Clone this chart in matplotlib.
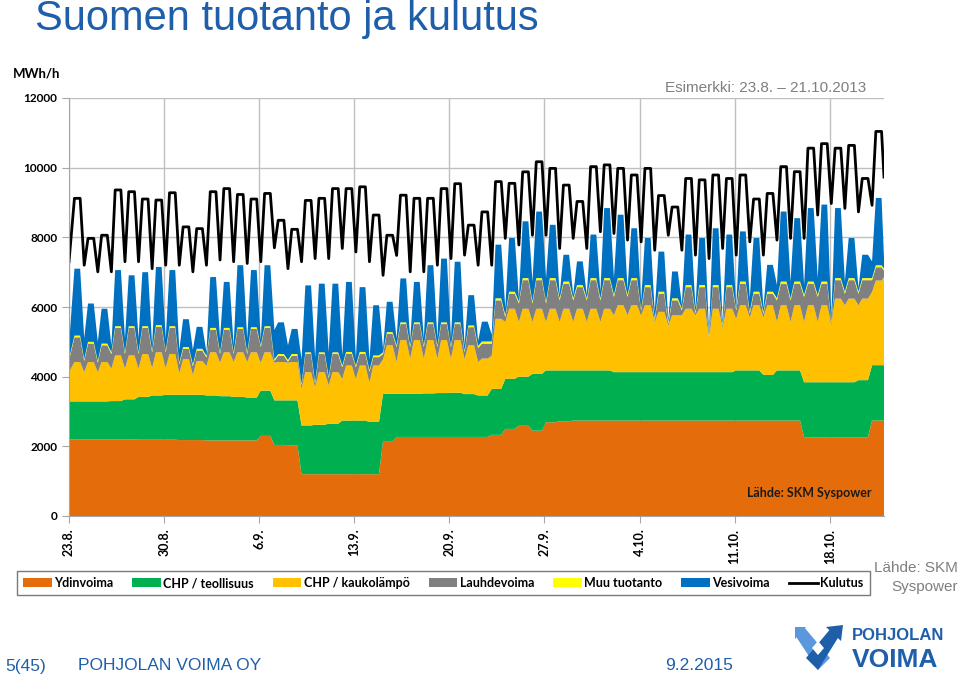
import numpy as np
import matplotlib
matplotlib.use("Agg")
import matplotlib.pyplot as plt
from matplotlib.patches import Patch, Polygon
from matplotlib.lines import Line2D

# ---------------- data (MWh/h), one value per day: night trough / daytime level -------------
date_labels = ["23.8.", "30.8.", "6.9.", "13.9.", "20.9.", "27.9.", "4.10.", "11.10.", "18.10."]
series_names = ["Ydinvoima", "CHP / teollisuus", "CHP / kaukolämpö", "Lauhdevoima",
                "Muu tuotanto", "Vesivoima", "Kulutus"]

# nuclear (same day/night), 61 values: day 0 .. 60 (end of period)
ydinvoima = [2200, 2200, 2200, 2200, 2200, 2190, 2190, 2190, 2180, 2180,
             2170, 2170, 2170, 2170, 2300, 2040, 2030, 1200, 1200, 1200,
             1200, 1200, 1200, 2150, 2270, 2270, 2270, 2270, 2270, 2270,
             2270, 2330, 2500, 2590, 2450, 2690, 2720, 2740, 2740, 2740,
             2740, 2740, 2740, 2740, 2740, 2740, 2740, 2740, 2740, 2740,
             2740, 2740, 2740, 2740, 2260, 2260, 2260, 2260, 2260, 2740, 2740]
chp_teollisuus = [1090, 1090, 1090, 1100, 1150, 1230, 1270, 1290, 1300, 1300,
                  1290, 1270, 1250, 1230, 1300, 1280, 1290, 1400, 1420, 1450,
                  1540, 1540, 1500, 1360, 1240, 1240, 1250, 1260, 1270, 1230,
                  1190, 1320, 1440, 1410, 1630, 1490, 1460, 1440, 1440, 1440,
                  1390, 1390, 1390, 1390, 1390, 1390, 1390, 1390, 1390, 1440,
                  1440, 1310, 1440, 1440, 1580, 1580, 1580, 1580, 1640, 1590, 1590]
chp_kauko_day = [1130, 1130, 1130, 1310, 1260, 1230, 1240, 1170, 1020, 970,
                 1240, 1260, 1280, 1300, 1100, 1100, 1100, 1530, 1510, 1480,
                 1580, 1580, 1620, 1390, 1540, 1540, 1530, 1520, 1510, 1400,
                 1060, 2010, 2010, 1950, 1870, 1770, 1770, 1770, 1770, 1770,
                 1920, 1920, 1920, 1730, 1630, 1820, 1820, 1820, 1820, 1870,
                 1870, 2000, 1870, 1870, 2210, 2210, 2400, 2400, 2340, 2430]
chp_kauko_night = [840, 840, 840, 930, 880, 810, 790, 770, 620, 570,
                   840, 960, 1000, 1020, 800, 1080, 1080, 1050, 1080, 1100,
                   1200, 1200, 1140, 990, 910, 1010, 1000, 990, 980, 1000,
                   960, 950, 1630, 1570, 1490, 1390, 1390, 1390, 1390, 1390,
                   1630, 1630, 1630, 1440, 1340, 1630, 1630, 970, 1270, 1490,
                   1520, 1650, 1390, 1390, 1730, 1730, 1660, 2210, 2150, 2100, 2530]
lauhde_day = [710, 530, 480, 790, 790, 750, 730, 750, 300, 300,
              650, 650, 670, 670, 700, 180, 180, 520, 520, 520,
              340, 340, 240, 330, 460, 460, 460, 460, 460, 520,
              430, 530, 430, 820, 820, 820, 720, 620, 820, 820,
              720, 720, 520, 520, 430, 620, 620, 620, 620, 620,
              330, 330, 620, 620, 620, 620, 530, 530, 530, 380]
lauhde_night = [335, 320, 270, 420, 420, 420, 450, 450, 250, 250,
                250, 250, 230, 230, 450, 50, 30, 100, 100, 200,
                330, 330, 300, 150, 430, 330, 330, 330, 330, 200,
                400, 350, 140, 530, 530, 530, 620, 620, 620, 620,
                530, 530, 140, 50, 50, 140, 50, 40, 50, 230,
                110, 100, 620, 620, 720, 720, 50, 330, 330, 340, 190]
muu_tuotanto = [50, 50, 50, 50, 50, 50, 50, 50, 50, 50,
                50, 50, 50, 50, 50, 50, 50, 50, 50, 50,
                50, 50, 50, 50, 50, 50, 50, 50, 50, 50,
                60, 60, 60, 60, 60, 60, 60, 60, 60, 60,
                60, 60, 60, 60, 60, 60, 60, 60, 60, 60,
                60, 60, 60, 60, 60, 60, 60, 60, 60, 60, 60]
vesi_day = [1920, 1100, 1000, 1610, 1460, 1550, 1670, 1610, 800, 630,
            1460, 1320, 1780, 1640, 1750, 910, 720, 1920, 1970, 1970,
            2010, 1860, 1440, 870, 1260, 1160, 1640, 1830, 1740, 870,
            570, 1540, 1540, 1630, 1910, 1530, 770, 680, 1250, 2010,
            1820, 1430, 1350, 1150, 770, 1450, 1350, 1630, 1450, 1440,
            1540, 770, 2010, 1820, 2110, 2210, 2010, 1150, 670, 1930]
vesi_night = [385, 600, 550, 200, 390, 390, 150, 340, 370, 420,
              100, 390, 200, 390, 150, 840, 420, 700, 700, 700,
              290, 200, 300, 100, 190, 150, 200, 200, 200, 150,
              150, 200, 190, 90, 570, 670, 100, 100, 100, 190,
              480, 150, 200, 190, 50, 100, 100, 90, 50, 50,
              380, 100, 380, 480, 280, 480, 100, 290, 100, 480, 290]
kulutus_day = [9120, 7970, 8060, 9360, 9310, 9100, 9070, 9280, 8300, 8250,
               9310, 9400, 9230, 9100, 9260, 8490, 8230, 9060, 9120, 9400,
               9400, 9450, 8640, 8060, 9210, 9120, 9120, 9400, 9540, 8350,
               8730, 9600, 9550, 9880, 10170, 9980, 9500, 9030, 10030, 10080,
               9980, 9790, 9980, 9200, 8870, 9690, 9650, 9790, 9690, 9790,
               9100, 9260, 10030, 9885, 10560, 10690, 10560, 10640, 9690, 11040]
kulutus_night = [7300, 7200, 7010, 7010, 7300, 7300, 7100, 7200, 7200, 7010,
                 7200, 7350, 7300, 7250, 7300, 7700, 7100, 7300, 7390, 7390,
                 7680, 7580, 7300, 6910, 7480, 7010, 7010, 7200, 7390, 7490,
                 7200, 7200, 7970, 7780, 8060, 8060, 7680, 7970, 7680, 8160,
                 8110, 7920, 7870, 7630, 8060, 7630, 7490, 7390, 7680, 7490,
                 7870, 7490, 7920, 7970, 7970, 8640, 8970, 8830, 8730, 8920, 9730]

colors = ["#E46C0A", "#00B050", "#FFC000", "#808080", "#FFFF00", "#0070C0"]
blue_txt = "#1F5FAA"

n_days = len(kulutus_day)
# each day: night trough, then the daytime level held as a plateau (drawing style)
t = [0.0]
for d in range(n_days):
    if d > 0:
        t.append(d + 0.12)
    t += [d + 0.4, d + 0.82]
t.append(float(n_days))
t = np.array(t)


def daily(night, day):
    out = []
    for i in range(len(day)):
        out += [night[i], day[i], day[i]]
    out.append(night[len(day)])
    return np.array(out, float)


s_nuc = daily(ydinvoima, ydinvoima[:n_days])
s_ind = daily(chp_teollisuus, chp_teollisuus[:n_days])
s_dh = daily(chp_kauko_night, chp_kauko_day)
s_cond = daily(lauhde_night, lauhde_day)
s_muu = daily(muu_tuotanto, muu_tuotanto[:n_days])
s_hyd = daily(vesi_night, vesi_day)
s_cons = daily(kulutus_night, kulutus_day)

# ---------------- figure ----------------
fig = plt.figure(figsize=(9.6, 6.8), dpi=100)
fig.patch.set_facecolor("white")
ax = fig.add_axes([69 / 960, 1 - 516 / 680, (884 - 69) / 960, (516 - 98) / 680])

ax.stackplot(t, s_nuc, s_ind, s_dh, s_cond, s_muu, s_hyd, colors=colors, linewidth=0)
ax.plot(t, s_cons, color="black", lw=2.0, solid_joinstyle="round")

ax.set_xlim(0, n_days)
ax.set_ylim(0, 12000)
ax.set_axisbelow(True)
ax.set_yticks(range(0, 12001, 2000))
ax.set_xticks(range(0, n_days, 7))
ax.set_xticklabels(date_labels, rotation=90, fontsize=9, fontweight="bold", family="Lato")
ax.set_yticklabels([str(v) for v in range(0, 12001, 2000)], fontsize=8.5,
                   fontweight="bold", family="Lato")
ax.grid(True, color="#BFBFBF", lw=1)
for side in ["top", "right"]:
    ax.spines[side].set_visible(False)
for side in ["left", "bottom"]:
    ax.spines[side].set_color("#A6A6A6")
ax.tick_params(axis="both", colors="#A6A6A6", labelcolor="black", length=5)
ax.tick_params(axis="x", pad=4)

ax.text(0.985, 0.055, "Lähde: SKM Syspower", transform=ax.transAxes, ha="right", va="center",
        fontsize=9, fontweight="bold", family="Lato", color="#1a1a1a")

fig.text(13 / 960, 1 - 73 / 680, "MWh/h", fontsize=9.5, fontweight="bold", family="Lato",
         ha="left", va="center")
fig.text(35 / 960, 1 - 19 / 680, "Suomen tuotanto ja kulutus", fontsize=30,
         family="Liberation Sans", color=blue_txt, ha="left", va="center")
fig.text(866 / 960, 1 - 88 / 680, "Esimerkki: 23.8. \u2013 21.10.2013", fontsize=11,
         family="Liberation Sans", color="#7F7F7F", ha="right", va="center")

# legend
handles = [Patch(facecolor=c, edgecolor="none") for c in colors]
handles.append(Line2D([], [], color="black", lw=2))
leg = fig.legend(handles, series_names, loc="center", ncol=7,
                 bbox_to_anchor=(443 / 960, 1 - 583 / 680),
                 prop={"family": "Lato", "weight": "bold", "size": 9},
                 frameon=True, fancybox=False, edgecolor="#595959",
                 handlelength=2.3, handleheight=0.75, handletextpad=0.2,
                 columnspacing=1.5, borderpad=0.5)
leg.get_frame().set_linewidth(1.0)

fig.text(958 / 960, 1 - 568 / 680, "Lähde: SKM", fontsize=11, family="Liberation Sans",
         color="#7F7F7F", ha="right", va="center")
fig.text(958 / 960, 1 - 587 / 680, "Syspower", fontsize=11, family="Liberation Sans",
         color="#7F7F7F", ha="right", va="center")

# footer
fig.text(5 / 960, 1 - 666 / 680, "5(45)", fontsize=12.5, family="Liberation Sans",
         color=blue_txt, ha="left", va="center")
fig.text(78 / 960, 1 - 666 / 680, "POHJOLAN VOIMA OY", fontsize=12.5, family="Liberation Sans",
         color=blue_txt, ha="left", va="center")
fig.text(733 / 960, 1 - 666 / 680, "9.2.2015", fontsize=12.5, family="Liberation Sans",
         color=blue_txt, ha="right", va="center")


def px(pts):
    return [(x / 960, 1 - y / 680) for x, y in pts]


light = "#5B97DC"
dark = "#1F5FAA"
for pts, c in [
    ([(795, 635), (804, 627), (830, 658), (818, 670)], light),
    ([(795, 627), (806, 627), (795, 639)], light),
    ([(841, 633), (832, 627), (806, 658), (818, 670)], dark),
    ([(826, 627), (843, 625), (841, 641)], dark),
    ([(818, 641), (824, 648), (818, 655), (812, 648)], "white"),
]:
    fig.patches.append(Polygon(px(pts), closed=True, facecolor=c, edgecolor="none",
                               transform=fig.transFigure, figure=fig))
fig.text(852 / 960, 1 - 635 / 680, "POHJOLAN", fontsize=12, fontweight="bold",
         family="Liberation Sans", color=dark, ha="left", va="center")
fig.text(852 / 960, 1 - 660 / 680, "VOIMA", fontsize=19, fontweight="bold",
         family="Liberation Sans", color=dark, ha="left", va="center")

fig.savefig("out.png", dpi=100, facecolor="white")
